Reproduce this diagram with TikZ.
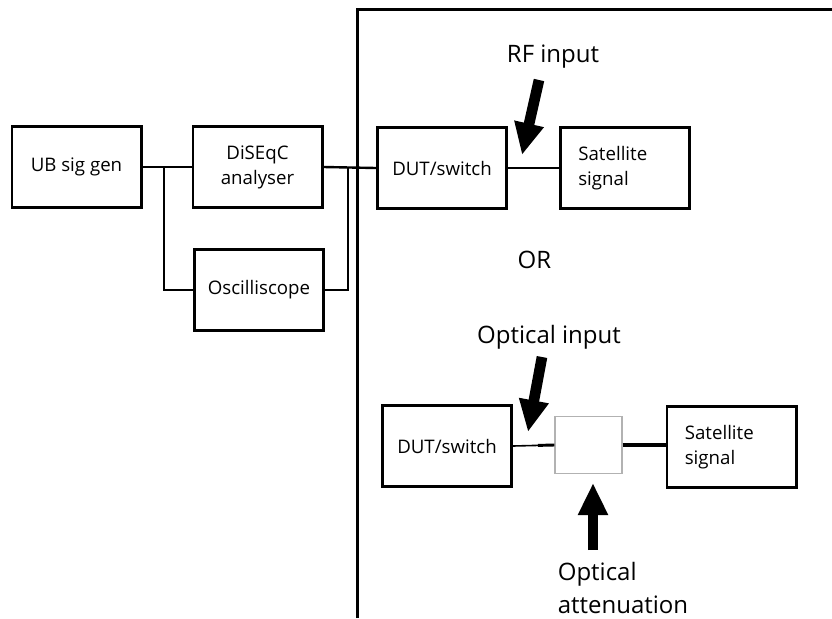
\documentclass[tikz,border=0pt]{standalone}
\usepackage{fontspec}
\setmainfont{Open Sans}
\usetikzlibrary{positioning}
\usetikzlibrary{arrows.meta}
\tikzstyle{wire} = [line width=1.8pt]
\tikzstyle{bigarrow} = [line width=8pt,-{Triangle[width=21pt,length=24pt]}]

\begin{document}
\begin{tikzpicture}[x=0.75pt,y=-0.75pt,
      box/.style={draw,line width=2pt,minimum width=97pt,minimum height=61pt,
        inner sep=0pt,align=center,font=\fontsize{14}{18.8}\selectfont},
      sat box/.style={box,text width=70pt,align=left},
      tag/.style={font=\fontsize{18}{25}\selectfont,inner sep=0pt}]

  \useasboundingbox (0,0) rectangle (832,618);
  % frame round the DUT side
  \draw[line width=2.25pt] (357,618) |- (832,9);

  \node[box] (UB) at (76.5,167) {UB sig gen};
  \node[box] (DIS) at (257.5,167) {DiSEqC\\analyser};
  \node[box] (OSC) at (259,290) {Oscilliscope};
  \node[box] (DUT1) at (442,168) {DUT/switch};
  \node[sat box] (SAT1) at (625,168) {Satellite\\signal};

  \node[tag] (RF) at (553,57) {RF input};
  \node[tag] (OR) at (534.5,260) {OR};

  \node[box] (DUT2) at (447,446) {DUT/switch};
  \node[draw=gray!60,line width=1.2pt,minimum width=50pt,minimum height=43pt] (ATT) at (588.5,445) {};
  \node[sat box] (SAT2) at (731.5,447) {Satellite\\signal};

  \node[tag] (OPT) at (549,337) {Optical input};
  \node[tag,align=left] (ATTL) at (623,588) {Optical\\attenuation};

  \path (UB.east) -- (DIS.west) coordinate[pos=0.44] (J1);
  \path (DIS.east) -- (DUT1.west) coordinate[pos=0.47] (J2);
  \path (DUT2.east) -- (ATT.west) coordinate[pos=0.6] (J3);

  \draw[wire] (UB.east) -- (DIS.west);
  \draw[wire] (J1) |- (OSC.west);
  \draw[wire] (DIS.east) -- (DUT1.west);
  \draw[wire] (J2) |- (OSC.east);
  \draw[wire] (DUT1.east) -- (SAT1.west);

  \draw[line width=1.2pt] (DUT2.east) -- (J3);
  \draw[line width=2.2pt] (J3) -- (ATT.west);
  \draw[line width=2.4pt] (ATT.east) -- (SAT2.west |- ATT.east);

  % block arrows
  \coordinate (RFtail) at (539,80);
  \coordinate (RFtip) at (522,155);
  \coordinate (OPTtail) at (542,357);
  \coordinate (OPTtip) at (528,432);
  \coordinate (ATTtail) at (593,550);
  \coordinate (ATTtip) at (593,483);
  \draw[bigarrow] (RFtail) -- (RFtip);
  \draw[bigarrow] (OPTtail) -- (OPTtip);
  \draw[bigarrow] (ATTtail) -- (ATTtip);
\end{tikzpicture}
\end{document}
